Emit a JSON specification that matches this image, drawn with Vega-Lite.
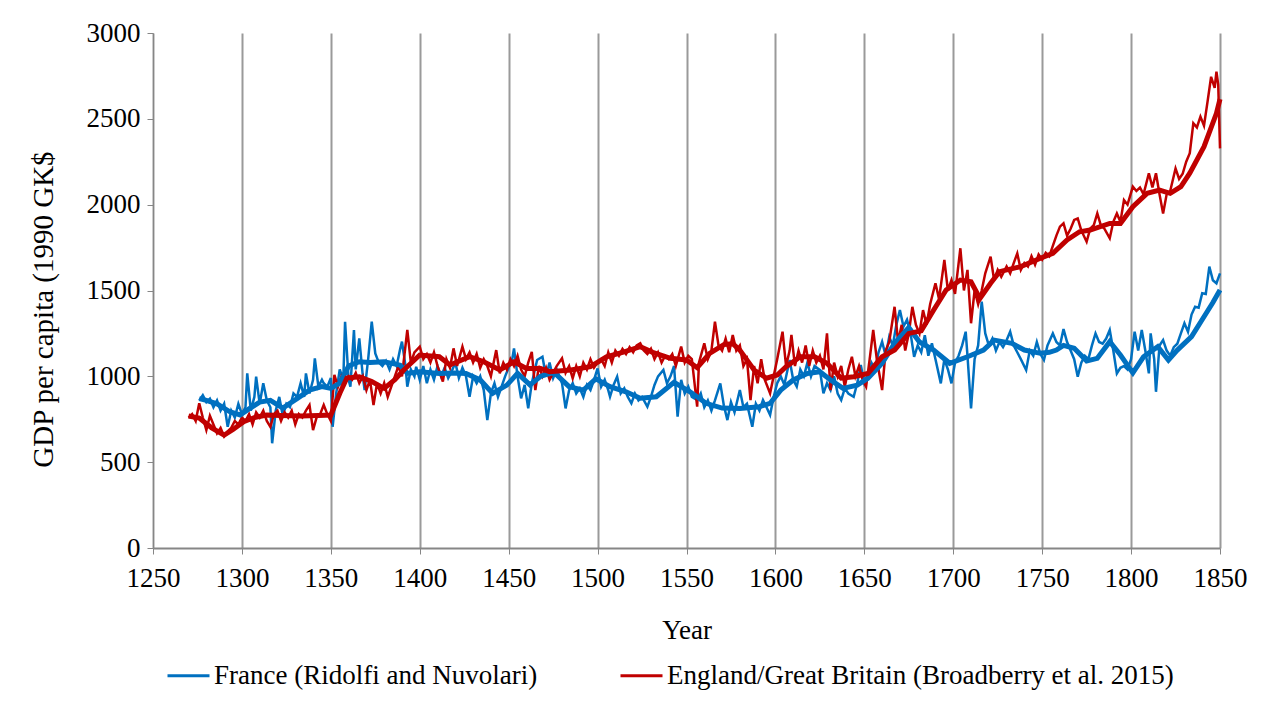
{
"$schema":"https://vega.github.io/schema/vega-lite/v6.json",
"width":1067,"height":515,
"autosize":{"type":"none"},
"padding":{"left":153,"top":33,"right":54,"bottom":174},
"background":"white",
"config":{"view":{"stroke":null},"font":"Liberation Serif"},
"datasets":{
"fa":[{"year":1276,"gdp":860},{"year":1278,"gdp":890},{"year":1280,"gdp":850},{"year":1282,"gdp":870},{"year":1284,"gdp":820},{"year":1286,"gdp":860},{"year":1288,"gdp":800},{"year":1290,"gdp":840},{"year":1292,"gdp":706},{"year":1294,"gdp":800},{"year":1296,"gdp":760},{"year":1298,"gdp":840},{"year":1300,"gdp":780},{"year":1302,"gdp":820},{"year":1303,"gdp":1017},{"year":1305,"gdp":800},{"year":1307,"gdp":880},{"year":1308,"gdp":998},{"year":1310,"gdp":840},{"year":1312,"gdp":960},{"year":1314,"gdp":860},{"year":1316,"gdp":820},{"year":1317,"gdp":610},{"year":1319,"gdp":800},{"year":1321,"gdp":880},{"year":1323,"gdp":770},{"year":1325,"gdp":840},{"year":1327,"gdp":820},{"year":1329,"gdp":900},{"year":1331,"gdp":880},{"year":1333,"gdp":960},{"year":1335,"gdp":880},{"year":1336,"gdp":1017},{"year":1338,"gdp":900},{"year":1340,"gdp":980},{"year":1341,"gdp":1105},{"year":1343,"gdp":940},{"year":1345,"gdp":980},{"year":1346,"gdp":960},{"year":1348,"gdp":940},{"year":1350,"gdp":990},{"year":1351,"gdp":706},{"year":1353,"gdp":900},{"year":1355,"gdp":1040},{"year":1357,"gdp":980},{"year":1358,"gdp":1318},{"year":1360,"gdp":980},{"year":1361,"gdp":940},{"year":1363,"gdp":1270},{"year":1364,"gdp":1040},{"year":1366,"gdp":1221},{"year":1368,"gdp":1000},{"year":1369,"gdp":920},{"year":1371,"gdp":1100},{"year":1373,"gdp":1318},{"year":1375,"gdp":1134},{"year":1377,"gdp":1080},{"year":1379,"gdp":1060},{"year":1381,"gdp":1090},{"year":1383,"gdp":1040},{"year":1385,"gdp":1100},{"year":1387,"gdp":1060},{"year":1389,"gdp":1160},{"year":1390,"gdp":1202},{"year":1392,"gdp":1060},{"year":1393,"gdp":940},{"year":1395,"gdp":1040},{"year":1397,"gdp":1000},{"year":1398,"gdp":1056},{"year":1400,"gdp":980},{"year":1402,"gdp":1060},{"year":1404,"gdp":960},{"year":1406,"gdp":1040},{"year":1408,"gdp":980},{"year":1410,"gdp":1060},{"year":1412,"gdp":1000},{"year":1414,"gdp":1050},{"year":1416,"gdp":990},{"year":1418,"gdp":1030},{"year":1420,"gdp":1080},{"year":1422,"gdp":990},{"year":1424,"gdp":1050},{"year":1426,"gdp":1000},{"year":1428,"gdp":881},{"year":1430,"gdp":1000},{"year":1432,"gdp":960},{"year":1434,"gdp":1000},{"year":1436,"gdp":920},{"year":1438,"gdp":745},{"year":1440,"gdp":900},{"year":1442,"gdp":960},{"year":1444,"gdp":880},{"year":1446,"gdp":940},{"year":1448,"gdp":1000},{"year":1450,"gdp":1050},{"year":1452,"gdp":1100},{"year":1453,"gdp":1163},{"year":1455,"gdp":1000},{"year":1457,"gdp":872},{"year":1459,"gdp":950},{"year":1461,"gdp":813},{"year":1463,"gdp":960},{"year":1466,"gdp":1095},{"year":1469,"gdp":1114},{"year":1471,"gdp":1000},{"year":1473,"gdp":1080},{"year":1475,"gdp":990},{"year":1477,"gdp":1040},{"year":1480,"gdp":960},{"year":1482,"gdp":813},{"year":1484,"gdp":920},{"year":1486,"gdp":960},{"year":1488,"gdp":900},{"year":1490,"gdp":930},{"year":1492,"gdp":880},{"year":1494,"gdp":950},{"year":1496,"gdp":920},{"year":1498,"gdp":980},{"year":1500,"gdp":1046},{"year":1502,"gdp":940},{"year":1504,"gdp":980},{"year":1506,"gdp":920},{"year":1507,"gdp":881},{"year":1509,"gdp":950},{"year":1511,"gdp":998},{"year":1513,"gdp":900},{"year":1515,"gdp":930},{"year":1517,"gdp":880},{"year":1519,"gdp":843},{"year":1521,"gdp":900},{"year":1523,"gdp":860},{"year":1525,"gdp":880},{"year":1528,"gdp":823},{"year":1530,"gdp":880},{"year":1532,"gdp":950},{"year":1534,"gdp":1000},{"year":1537,"gdp":1037},{"year":1539,"gdp":960},{"year":1541,"gdp":1000},{"year":1543,"gdp":1060},{"year":1545,"gdp":765},{"year":1547,"gdp":980},{"year":1549,"gdp":900},{"year":1551,"gdp":940},{"year":1553,"gdp":880},{"year":1556,"gdp":862},{"year":1558,"gdp":900},{"year":1560,"gdp":820},{"year":1562,"gdp":860},{"year":1564,"gdp":800},{"year":1566,"gdp":860},{"year":1569,"gdp":959},{"year":1571,"gdp":830},{"year":1573,"gdp":745},{"year":1575,"gdp":850},{"year":1577,"gdp":790},{"year":1580,"gdp":920},{"year":1582,"gdp":820},{"year":1584,"gdp":840},{"year":1587,"gdp":706},{"year":1589,"gdp":840},{"year":1591,"gdp":800},{"year":1593,"gdp":862},{"year":1595,"gdp":820},{"year":1597,"gdp":775},{"year":1599,"gdp":880},{"year":1601,"gdp":960},{"year":1603,"gdp":1000},{"year":1605,"gdp":950},{"year":1608,"gdp":1095},{"year":1610,"gdp":980},{"year":1612,"gdp":940},{"year":1614,"gdp":1040},{"year":1616,"gdp":1000},{"year":1618,"gdp":1080},{"year":1620,"gdp":1000},{"year":1622,"gdp":1060},{"year":1625,"gdp":1037},{"year":1627,"gdp":901},{"year":1629,"gdp":960},{"year":1631,"gdp":920},{"year":1633,"gdp":1000},{"year":1635,"gdp":900},{"year":1637,"gdp":862},{"year":1639,"gdp":930},{"year":1641,"gdp":900},{"year":1644,"gdp":881},{"year":1646,"gdp":960},{"year":1648,"gdp":1066},{"year":1650,"gdp":960},{"year":1652,"gdp":1000},{"year":1654,"gdp":1080},{"year":1656,"gdp":1040},{"year":1658,"gdp":1140},{"year":1660,"gdp":1202},{"year":1662,"gdp":1120},{"year":1664,"gdp":1230},{"year":1666,"gdp":1180},{"year":1668,"gdp":1300},{"year":1670,"gdp":1386},{"year":1672,"gdp":1290},{"year":1674,"gdp":1330},{"year":1676,"gdp":1250},{"year":1678,"gdp":1114},{"year":1680,"gdp":1180},{"year":1682,"gdp":1140},{"year":1684,"gdp":1240},{"year":1686,"gdp":1120},{"year":1688,"gdp":1192},{"year":1690,"gdp":1100},{"year":1693,"gdp":959},{"year":1695,"gdp":1100},{"year":1697,"gdp":1040},{"year":1699,"gdp":959},{"year":1701,"gdp":1080},{"year":1703,"gdp":1120},{"year":1705,"gdp":1180},{"year":1707,"gdp":1260},{"year":1708,"gdp":1120},{"year":1710,"gdp":813},{"year":1712,"gdp":1100},{"year":1714,"gdp":1180},{"year":1716,"gdp":1435},{"year":1718,"gdp":1250},{"year":1720,"gdp":1180},{"year":1722,"gdp":1220},{"year":1724,"gdp":1150},{"year":1726,"gdp":1200},{"year":1728,"gdp":1170},{"year":1730,"gdp":1210},{"year":1732,"gdp":1260},{"year":1734,"gdp":1180},{"year":1736,"gdp":1140},{"year":1738,"gdp":1100},{"year":1741,"gdp":1037},{"year":1743,"gdp":1150},{"year":1745,"gdp":1120},{"year":1747,"gdp":1200},{"year":1749,"gdp":1130},{"year":1751,"gdp":1095},{"year":1753,"gdp":1180},{"year":1756,"gdp":1250},{"year":1758,"gdp":1200},{"year":1760,"gdp":1180},{"year":1762,"gdp":1275},{"year":1764,"gdp":1200},{"year":1766,"gdp":1150},{"year":1768,"gdp":1100},{"year":1770,"gdp":998},{"year":1772,"gdp":1080},{"year":1774,"gdp":1120},{"year":1776,"gdp":1100},{"year":1778,"gdp":1180},{"year":1780,"gdp":1250},{"year":1782,"gdp":1200},{"year":1784,"gdp":1190},{"year":1786,"gdp":1220},{"year":1788,"gdp":1270},{"year":1790,"gdp":1150},{"year":1792,"gdp":1017},{"year":1794,"gdp":1050},{"year":1796,"gdp":1060},{"year":1798,"gdp":1040},{"year":1800,"gdp":1100},{"year":1802,"gdp":1260},{"year":1804,"gdp":1150},{"year":1806,"gdp":1270},{"year":1808,"gdp":1150},{"year":1810,"gdp":1017},{"year":1811,"gdp":1250},{"year":1813,"gdp":1100},{"year":1814,"gdp":910},{"year":1816,"gdp":1180},{"year":1818,"gdp":1211},{"year":1820,"gdp":1150},{"year":1822,"gdp":1120},{"year":1824,"gdp":1170},{"year":1826,"gdp":1190},{"year":1828,"gdp":1250},{"year":1830,"gdp":1309},{"year":1832,"gdp":1260},{"year":1834,"gdp":1360},{"year":1836,"gdp":1405},{"year":1838,"gdp":1400},{"year":1840,"gdp":1484},{"year":1842,"gdp":1480},{"year":1844,"gdp":1639},{"year":1846,"gdp":1560},{"year":1848,"gdp":1542},{"year":1850,"gdp":1600}],
"ft":[{"year":1276,"gdp":870},{"year":1280,"gdp":860},{"year":1286,"gdp":840},{"year":1293,"gdp":795},{"year":1299,"gdp":775},{"year":1304,"gdp":810},{"year":1310,"gdp":850},{"year":1316,"gdp":860},{"year":1323,"gdp":815},{"year":1331,"gdp":870},{"year":1338,"gdp":920},{"year":1345,"gdp":940},{"year":1350,"gdp":930},{"year":1355,"gdp":960},{"year":1360,"gdp":1060},{"year":1366,"gdp":1085},{"year":1372,"gdp":1080},{"year":1380,"gdp":1085},{"year":1389,"gdp":1065},{"year":1393,"gdp":1017},{"year":1400,"gdp":1027},{"year":1411,"gdp":1017},{"year":1420,"gdp":1020},{"year":1426,"gdp":1017},{"year":1434,"gdp":979},{"year":1441,"gdp":901},{"year":1449,"gdp":949},{"year":1455,"gdp":1017},{"year":1462,"gdp":950},{"year":1468,"gdp":1000},{"year":1474,"gdp":1020},{"year":1477,"gdp":1008},{"year":1484,"gdp":940},{"year":1492,"gdp":920},{"year":1499,"gdp":985},{"year":1507,"gdp":940},{"year":1516,"gdp":910},{"year":1524,"gdp":872},{"year":1533,"gdp":881},{"year":1543,"gdp":965},{"year":1552,"gdp":910},{"year":1561,"gdp":843},{"year":1570,"gdp":815},{"year":1580,"gdp":813},{"year":1591,"gdp":823},{"year":1597,"gdp":843},{"year":1603,"gdp":920},{"year":1610,"gdp":979},{"year":1618,"gdp":1017},{"year":1625,"gdp":1027},{"year":1631,"gdp":979},{"year":1638,"gdp":930},{"year":1646,"gdp":949},{"year":1652,"gdp":989},{"year":1660,"gdp":1076},{"year":1667,"gdp":1192},{"year":1675,"gdp":1285},{"year":1681,"gdp":1200},{"year":1689,"gdp":1153},{"year":1698,"gdp":1076},{"year":1708,"gdp":1114},{"year":1717,"gdp":1153},{"year":1723,"gdp":1211},{"year":1733,"gdp":1192},{"year":1740,"gdp":1153},{"year":1749,"gdp":1134},{"year":1754,"gdp":1140},{"year":1758,"gdp":1153},{"year":1762,"gdp":1180},{"year":1768,"gdp":1163},{"year":1775,"gdp":1090},{"year":1781,"gdp":1105},{"year":1788,"gdp":1202},{"year":1794,"gdp":1124},{"year":1801,"gdp":1020},{"year":1807,"gdp":1114},{"year":1815,"gdp":1173},{"year":1821,"gdp":1095},{"year":1826,"gdp":1153},{"year":1834,"gdp":1231},{"year":1841,"gdp":1347},{"year":1846,"gdp":1430},{"year":1850,"gdp":1503}],
"ea":[{"year":1270,"gdp":760},{"year":1272,"gdp":780},{"year":1274,"gdp":740},{"year":1276,"gdp":843},{"year":1278,"gdp":760},{"year":1280,"gdp":687},{"year":1282,"gdp":770},{"year":1284,"gdp":720},{"year":1286,"gdp":668},{"year":1288,"gdp":700},{"year":1290,"gdp":650},{"year":1292,"gdp":680},{"year":1294,"gdp":700},{"year":1296,"gdp":740},{"year":1298,"gdp":720},{"year":1300,"gdp":760},{"year":1302,"gdp":740},{"year":1304,"gdp":780},{"year":1306,"gdp":720},{"year":1308,"gdp":790},{"year":1310,"gdp":760},{"year":1312,"gdp":800},{"year":1314,"gdp":740},{"year":1316,"gdp":706},{"year":1318,"gdp":780},{"year":1320,"gdp":800},{"year":1322,"gdp":740},{"year":1324,"gdp":790},{"year":1326,"gdp":760},{"year":1328,"gdp":800},{"year":1330,"gdp":720},{"year":1332,"gdp":780},{"year":1334,"gdp":760},{"year":1336,"gdp":800},{"year":1338,"gdp":833},{"year":1340,"gdp":687},{"year":1342,"gdp":760},{"year":1344,"gdp":780},{"year":1346,"gdp":833},{"year":1348,"gdp":780},{"year":1350,"gdp":740},{"year":1352,"gdp":1008},{"year":1354,"gdp":940},{"year":1356,"gdp":1000},{"year":1358,"gdp":960},{"year":1360,"gdp":1000},{"year":1362,"gdp":980},{"year":1364,"gdp":1020},{"year":1366,"gdp":960},{"year":1368,"gdp":1000},{"year":1370,"gdp":920},{"year":1372,"gdp":980},{"year":1374,"gdp":833},{"year":1376,"gdp":960},{"year":1378,"gdp":900},{"year":1380,"gdp":960},{"year":1382,"gdp":880},{"year":1384,"gdp":940},{"year":1386,"gdp":1000},{"year":1388,"gdp":1060},{"year":1390,"gdp":1000},{"year":1393,"gdp":1270},{"year":1395,"gdp":1080},{"year":1397,"gdp":1140},{"year":1400,"gdp":1173},{"year":1402,"gdp":1100},{"year":1404,"gdp":1130},{"year":1406,"gdp":1080},{"year":1408,"gdp":1140},{"year":1410,"gdp":1060},{"year":1413,"gdp":969},{"year":1415,"gdp":1100},{"year":1417,"gdp":1050},{"year":1419,"gdp":1163},{"year":1421,"gdp":1060},{"year":1424,"gdp":1173},{"year":1426,"gdp":1100},{"year":1428,"gdp":1140},{"year":1430,"gdp":1080},{"year":1432,"gdp":1130},{"year":1434,"gdp":1050},{"year":1436,"gdp":1100},{"year":1438,"gdp":1060},{"year":1440,"gdp":1000},{"year":1443,"gdp":1153},{"year":1445,"gdp":1017},{"year":1447,"gdp":1080},{"year":1449,"gdp":1040},{"year":1451,"gdp":1100},{"year":1453,"gdp":1060},{"year":1455,"gdp":1120},{"year":1457,"gdp":1040},{"year":1459,"gdp":1000},{"year":1461,"gdp":1080},{"year":1463,"gdp":1143},{"year":1465,"gdp":920},{"year":1467,"gdp":1060},{"year":1469,"gdp":1000},{"year":1471,"gdp":1050},{"year":1473,"gdp":980},{"year":1475,"gdp":1020},{"year":1477,"gdp":1060},{"year":1480,"gdp":1105},{"year":1482,"gdp":1020},{"year":1484,"gdp":1060},{"year":1486,"gdp":989},{"year":1488,"gdp":1060},{"year":1490,"gdp":1000},{"year":1492,"gdp":1080},{"year":1494,"gdp":1040},{"year":1496,"gdp":1100},{"year":1498,"gdp":1050},{"year":1500,"gdp":1080},{"year":1502,"gdp":1100},{"year":1504,"gdp":1060},{"year":1506,"gdp":1140},{"year":1508,"gdp":1080},{"year":1510,"gdp":1150},{"year":1512,"gdp":1120},{"year":1514,"gdp":1160},{"year":1516,"gdp":1130},{"year":1518,"gdp":1170},{"year":1520,"gdp":1140},{"year":1522,"gdp":1180},{"year":1524,"gdp":1192},{"year":1526,"gdp":1150},{"year":1528,"gdp":1130},{"year":1530,"gdp":1160},{"year":1532,"gdp":1100},{"year":1534,"gdp":1140},{"year":1536,"gdp":1080},{"year":1538,"gdp":1120},{"year":1540,"gdp":1100},{"year":1542,"gdp":1130},{"year":1544,"gdp":1060},{"year":1547,"gdp":1173},{"year":1549,"gdp":1080},{"year":1551,"gdp":1120},{"year":1553,"gdp":1100},{"year":1556,"gdp":823},{"year":1557,"gdp":1080},{"year":1560,"gdp":1192},{"year":1562,"gdp":1100},{"year":1564,"gdp":1150},{"year":1566,"gdp":1318},{"year":1568,"gdp":1180},{"year":1570,"gdp":1150},{"year":1572,"gdp":1220},{"year":1574,"gdp":1140},{"year":1576,"gdp":1241},{"year":1578,"gdp":1150},{"year":1580,"gdp":1180},{"year":1582,"gdp":1060},{"year":1584,"gdp":1100},{"year":1586,"gdp":862},{"year":1588,"gdp":1060},{"year":1590,"gdp":960},{"year":1592,"gdp":1100},{"year":1594,"gdp":980},{"year":1597,"gdp":901},{"year":1599,"gdp":1000},{"year":1601,"gdp":1100},{"year":1604,"gdp":1260},{"year":1606,"gdp":1060},{"year":1608,"gdp":1150},{"year":1609,"gdp":1241},{"year":1611,"gdp":1060},{"year":1613,"gdp":1150},{"year":1615,"gdp":1080},{"year":1617,"gdp":1180},{"year":1619,"gdp":1060},{"year":1621,"gdp":1150},{"year":1623,"gdp":1080},{"year":1625,"gdp":1120},{"year":1627,"gdp":1040},{"year":1629,"gdp":1250},{"year":1631,"gdp":920},{"year":1633,"gdp":1080},{"year":1635,"gdp":1000},{"year":1637,"gdp":1060},{"year":1639,"gdp":940},{"year":1641,"gdp":1040},{"year":1643,"gdp":1114},{"year":1645,"gdp":1000},{"year":1647,"gdp":1060},{"year":1649,"gdp":980},{"year":1651,"gdp":940},{"year":1653,"gdp":1100},{"year":1655,"gdp":1270},{"year":1657,"gdp":1100},{"year":1660,"gdp":920},{"year":1662,"gdp":1150},{"year":1664,"gdp":1200},{"year":1667,"gdp":1405},{"year":1669,"gdp":1200},{"year":1671,"gdp":1300},{"year":1673,"gdp":1150},{"year":1675,"gdp":1250},{"year":1677,"gdp":1405},{"year":1679,"gdp":1300},{"year":1681,"gdp":1250},{"year":1683,"gdp":1386},{"year":1685,"gdp":1300},{"year":1687,"gdp":1420},{"year":1690,"gdp":1542},{"year":1692,"gdp":1450},{"year":1695,"gdp":1678},{"year":1697,"gdp":1500},{"year":1699,"gdp":1560},{"year":1701,"gdp":1480},{"year":1704,"gdp":1746},{"year":1706,"gdp":1500},{"year":1708,"gdp":1620},{"year":1710,"gdp":1309},{"year":1712,"gdp":1500},{"year":1714,"gdp":1420},{"year":1716,"gdp":1500},{"year":1718,"gdp":1600},{"year":1721,"gdp":1697},{"year":1723,"gdp":1560},{"year":1725,"gdp":1620},{"year":1727,"gdp":1580},{"year":1730,"gdp":1640},{"year":1732,"gdp":1600},{"year":1734,"gdp":1660},{"year":1736,"gdp":1716},{"year":1738,"gdp":1620},{"year":1740,"gdp":1660},{"year":1742,"gdp":1640},{"year":1744,"gdp":1700},{"year":1746,"gdp":1650},{"year":1748,"gdp":1710},{"year":1750,"gdp":1680},{"year":1752,"gdp":1720},{"year":1754,"gdp":1700},{"year":1756,"gdp":1760},{"year":1758,"gdp":1820},{"year":1760,"gdp":1872},{"year":1762,"gdp":1891},{"year":1764,"gdp":1820},{"year":1766,"gdp":1860},{"year":1768,"gdp":1911},{"year":1770,"gdp":1920},{"year":1772,"gdp":1850},{"year":1775,"gdp":1784},{"year":1777,"gdp":1860},{"year":1779,"gdp":1880},{"year":1781,"gdp":1949},{"year":1783,"gdp":1880},{"year":1785,"gdp":1860},{"year":1788,"gdp":1804},{"year":1790,"gdp":1900},{"year":1792,"gdp":1949},{"year":1794,"gdp":1900},{"year":1796,"gdp":2027},{"year":1798,"gdp":2000},{"year":1801,"gdp":2105},{"year":1803,"gdp":2080},{"year":1805,"gdp":2100},{"year":1807,"gdp":2060},{"year":1810,"gdp":2183},{"year":1812,"gdp":2100},{"year":1814,"gdp":2183},{"year":1816,"gdp":2060},{"year":1818,"gdp":1949},{"year":1820,"gdp":2060},{"year":1822,"gdp":2080},{"year":1825,"gdp":2211},{"year":1827,"gdp":2150},{"year":1829,"gdp":2180},{"year":1831,"gdp":2250},{"year":1833,"gdp":2300},{"year":1835,"gdp":2474},{"year":1837,"gdp":2450},{"year":1839,"gdp":2513},{"year":1841,"gdp":2460},{"year":1843,"gdp":2600},{"year":1845,"gdp":2745},{"year":1847,"gdp":2680},{"year":1848,"gdp":2775},{"year":1849,"gdp":2700},{"year":1850,"gdp":2328}],
"et":[{"year":1270,"gdp":769},{"year":1276,"gdp":757},{"year":1283,"gdp":700},{"year":1290,"gdp":658},{"year":1295,"gdp":690},{"year":1301,"gdp":736},{"year":1307,"gdp":760},{"year":1314,"gdp":775},{"year":1322,"gdp":772},{"year":1333,"gdp":769},{"year":1343,"gdp":772},{"year":1350,"gdp":775},{"year":1355,"gdp":900},{"year":1359,"gdp":990},{"year":1366,"gdp":998},{"year":1373,"gdp":970},{"year":1380,"gdp":930},{"year":1386,"gdp":980},{"year":1391,"gdp":1037},{"year":1400,"gdp":1124},{"year":1411,"gdp":1114},{"year":1417,"gdp":1066},{"year":1428,"gdp":1114},{"year":1436,"gdp":1085},{"year":1445,"gdp":1037},{"year":1453,"gdp":1085},{"year":1460,"gdp":1046},{"year":1468,"gdp":1046},{"year":1473,"gdp":1027},{"year":1485,"gdp":1037},{"year":1496,"gdp":1056},{"year":1505,"gdp":1114},{"year":1515,"gdp":1143},{"year":1524,"gdp":1173},{"year":1531,"gdp":1140},{"year":1541,"gdp":1105},{"year":1550,"gdp":1095},{"year":1556,"gdp":1050},{"year":1563,"gdp":1134},{"year":1571,"gdp":1185},{"year":1576,"gdp":1190},{"year":1580,"gdp":1153},{"year":1588,"gdp":1037},{"year":1595,"gdp":989},{"year":1601,"gdp":1008},{"year":1606,"gdp":1056},{"year":1614,"gdp":1114},{"year":1622,"gdp":1114},{"year":1629,"gdp":1076},{"year":1637,"gdp":989},{"year":1644,"gdp":998},{"year":1652,"gdp":1017},{"year":1660,"gdp":1114},{"year":1667,"gdp":1153},{"year":1675,"gdp":1250},{"year":1682,"gdp":1265},{"year":1689,"gdp":1386},{"year":1696,"gdp":1503},{"year":1704,"gdp":1561},{"year":1710,"gdp":1551},{"year":1715,"gdp":1454},{"year":1721,"gdp":1542},{"year":1726,"gdp":1610},{"year":1738,"gdp":1639},{"year":1749,"gdp":1688},{"year":1756,"gdp":1716},{"year":1764,"gdp":1794},{"year":1771,"gdp":1842},{"year":1777,"gdp":1852},{"year":1788,"gdp":1891},{"year":1794,"gdp":1891},{"year":1801,"gdp":1988},{"year":1809,"gdp":2066},{"year":1816,"gdp":2085},{"year":1822,"gdp":2066},{"year":1828,"gdp":2105},{"year":1833,"gdp":2183},{"year":1841,"gdp":2338},{"year":1848,"gdp":2532},{"year":1850,"gdp":2615}]
},
"encoding":{
"x":{"field":"year","type":"quantitative","scale":{"domain":[1250,1850],"nice":false,"zero":false},
"axis":{"values":[1250,1300,1350,1400,1450,1500,1550,1600,1650,1700,1750,1800,1850],"format":"d","title":"Year","grid":true,"gridColor":"#9a9a9a","gridWidth":2,"domainColor":"#868686","domainWidth":2,"tickColor":"#868686","tickSize":6,"tickWidth":1,"labelFont":"Liberation Serif","labelFontSize":27,"labelColor":"#000000","labelPadding":11,"labelFlush":false,"titleFont":"Liberation Serif","titleFontSize":27,"titleFontWeight":"normal","titleColor":"#000000","titlePadding":26}},
"y":{"field":"gdp","type":"quantitative","scale":{"domain":[0,3000],"nice":false},
"axis":{"values":[0,500,1000,1500,2000,2500,3000],"format":"d","title":"GDP per capita (1990 GK$","grid":false,"domainColor":"#868686","domainWidth":1,"tickColor":"#868686","tickSize":6,"labelFont":"Liberation Serif","labelFontSize":27,"labelColor":"#000000","labelPadding":7,"titleFont":"Liberation Serif","titleFontSize":29,"titleFontWeight":"normal","titleColor":"#000000","titlePadding":28,"titleY":276}}
},
"layer":[
{"data":{"name":"fa"},"mark":{"type":"line","strokeWidth":2.5},
 "encoding":{"color":{"datum":"France (Ridolfi and Nuvolari)","type":"nominal",
  "scale":{"domain":["France (Ridolfi and Nuvolari)","England/Great Britain (Broadberry et al. 2015)"],"range":["#0070C0","#C00000"]},
  "legend":{"title":null,"orient":"none","legendX":13,"legendY":620,"direction":"horizontal","symbolType":"stroke","symbolSize":1764,"symbolStrokeWidth":3,"labelFont":"Liberation Serif","labelFontSize":27,"labelColor":"#000000","labelOffset":3,"columnPadding":76,"labelLimit":700}}}},
{"data":{"name":"ea"},"mark":{"type":"line","strokeWidth":2.5},
 "encoding":{"color":{"datum":"England/Great Britain (Broadberry et al. 2015)","type":"nominal"}}},
{"data":{"name":"ft"},"mark":{"type":"line","strokeWidth":5},
 "encoding":{"color":{"datum":"France (Ridolfi and Nuvolari)","type":"nominal"}}},
{"data":{"name":"et"},"mark":{"type":"line","strokeWidth":5},
 "encoding":{"color":{"datum":"England/Great Britain (Broadberry et al. 2015)","type":"nominal"}}}
]
}
